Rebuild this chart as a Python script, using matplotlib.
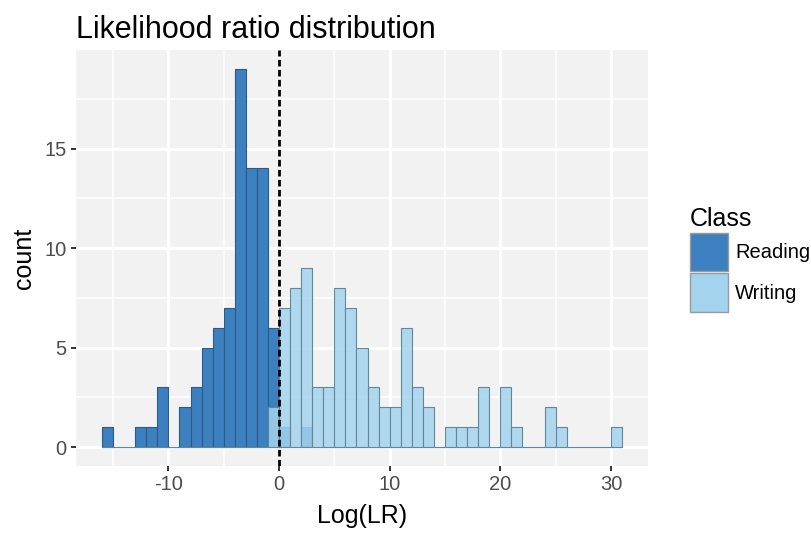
import numpy as np
import matplotlib.pyplot as plt
from matplotlib.colors import to_rgba
from matplotlib.patches import Patch

plt.rcParams['font.family'] = ['Liberation Sans', 'DejaVu Sans']
plt.rcParams['axes.unicode_minus'] = False

# histogram counts, one value per unit-wide bin starting at -16
bin_start = -16
reading = [1, 0, 0, 1, 1, 3, 0, 2, 3, 5, 6, 7, 19, 14, 14, 6, 1, 0, 1,
           0, 0, 0, 0, 0, 0, 0, 0, 0, 0, 0, 0, 0, 0, 0, 0, 0, 0, 0, 0,
           0, 0, 0, 0, 0, 0, 0, 0]
writing = [0, 0, 0, 0, 0, 0, 0, 0, 0, 0, 0, 0, 0, 0, 0,
           2, 7, 8, 9, 3, 3, 8, 7, 5, 3, 2, 2, 6, 3, 2, 0, 1, 1, 1, 3,
           0, 3, 1, 0, 0, 2, 1, 0, 0, 0, 0, 1]
classes = ["Reading", "Writing"]
colors = ["#3d80bf", "#a4d3ed"]
edges = ["#2b5a86", "#62869a"]

bins = np.arange(bin_start, bin_start + len(reading))

fig = plt.figure(figsize=(8.11, 5.33), dpi=100)
ax = fig.add_axes([76 / 811, 1 - 466 / 533, 572 / 811, 416 / 533])
ax.set_facecolor("#f2f2f2")

ax.bar(bins, reading, width=1, align="edge", color=colors[0],
       edgecolor=edges[0], linewidth=0.8, zorder=2)
ax.bar(bins, writing, width=1, align="edge", color=to_rgba(colors[1], 0.85),
       edgecolor=edges[1], linewidth=0.8, zorder=3)

ax.axvline(0, color="black", linewidth=2.0, dashes=(2.4, 1.2), zorder=4)

n = len(reading)
ax.set_xlim(bin_start - 0.05 * n, bin_start + n + 0.05 * n)
ax.set_ylim(-0.05 * 19, 19 + 0.05 * 19)

ax.set_xticks([-10, 0, 10, 20, 30])
ax.set_xticks([-15, -5, 5, 15, 25], minor=True)
ax.set_yticks([0, 5, 10, 15])
ax.set_yticks([2.5, 7.5, 12.5, 17.5], minor=True)
ax.grid(which="major", color="white", linewidth=2.2, zorder=0)
ax.grid(which="minor", color="white", linewidth=1.1, zorder=0)
ax.set_axisbelow(True)

for s in ax.spines.values():
    s.set_visible(False)
ax.tick_params(which="major", length=3.8, width=1.4, color="#333333",
               labelcolor="#4d4d4d", labelsize=14.5, pad=3)
ax.tick_params(which="minor", length=0)

ax.set_xlabel("Log(LR)", fontsize=18, labelpad=7)
ax.set_ylabel("count", fontsize=18, labelpad=6)
ax.set_title("Likelihood ratio distribution", loc="left", fontsize=22, pad=9)

handles = [Patch(facecolor=colors[0], edgecolor="#9a9a9a", linewidth=1.0),
           Patch(facecolor=colors[1], edgecolor="#9a9a9a", linewidth=1.0)]
fig.legend(handles, classes, title="Class", loc="upper left",
           bbox_to_anchor=(686 / 811, 1 - 203 / 533), frameon=False,
           fontsize=14.5, title_fontsize=18, handlelength=1.9,
           handleheight=2.55, handletextpad=0.35, labelspacing=0.1,
           alignment="left", borderaxespad=0, borderpad=0.2)

fig.savefig("out.png", dpi=100)
